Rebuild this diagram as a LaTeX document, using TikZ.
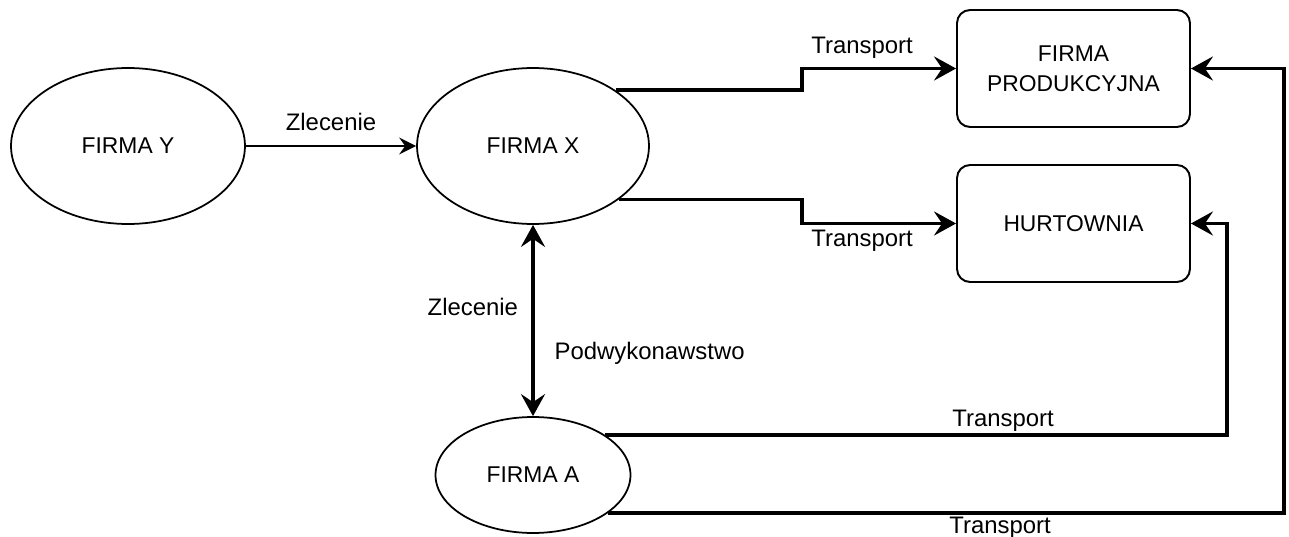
\documentclass[tikz,border=0pt]{standalone}
\usepackage{fontspec}
\setmainfont{Liberation Sans}
\usetikzlibrary{arrows.meta,shapes,positioning,calc}

\begin{document}
\begin{tikzpicture}[x=0.02cm, y=-0.02cm, font=\fontsize{13}{17}\selectfont,
		firm/.style={ellipse, draw, line width=1pt, inner sep=0pt},
		place/.style={rectangle, rounded corners=0.26cm, draw, line width=1.1pt, minimum width=4.66cm, minimum height=2.34cm, align=center},
		tip/.style={Stealth[length=4.4mm, width=4.8mm, inset=1.6mm]},
		flow/.style={line width=2pt, -{Stealth[length=4.4mm, width=4.8mm, inset=1.6mm]}},
		both/.style={line width=2pt, {Stealth[length=4.4mm, width=4.8mm, inset=1.6mm]}-{Stealth[length=4.4mm, width=4.8mm, inset=1.6mm]}},
		order/.style={line width=1.1pt, -{Stealth[length=3.4mm, width=3.4mm, inset=1.2mm]}},
		lab/.style={font=\fontsize{13.6}{16}\selectfont}]
		\useasboundingbox (0,0) rectangle (1289,537);

		\node[firm, minimum width=4.68cm, minimum height=3.12cm] (Y) at (128,146) {FIRMA Y};
		\node[firm, minimum width=4.64cm, minimum height=3.12cm] (X) at (533,146) {FIRMA X};
		\node[firm, minimum width=3.9cm, minimum height=2.32cm] (A) at (533,475) {FIRMA A};
		\node[place] (P) at (1073.5,68.5) {FIRMA\\PRODUKCYJNA};
		\node[place] (H) at (1073.5,223.5) {HURTOWNIA};

		\coordinate (b1) at (802,68.5);
		\coordinate (b2) at (802,223.5);
		\coordinate (b3) at (1227,223.5);
		\coordinate (b4) at (1284,68.5);

		\draw[order] (Y) -- (X) node[lab, midway, yshift=13.7pt] (l1) {Zlecenie};
		\draw[flow] (X.34) -| (b1) -- (P.west) node[lab, pos=0.39, yshift=12pt] (l2) {Transport};
		\draw[flow] (X.-32.4) -| (b2) -- (H.west) node[lab, pos=0.39, yshift=-10pt] (l3) {Transport};
		\draw[both] (X) -- (A)
			node[lab, pos=0.43, left=4.2pt] (l4) {Zlecenie}
			node[lab, pos=0.67, right=8pt] (l5) {Podwykonawstwo};
		\draw[flow] (A.29.4) -- (A.29.4 -| b3) node[lab, pos=0.64, yshift=8pt] (l6) {Transport} -- (b3) -- (H.east);
		\draw[flow] (A.-27.2) -- (A.-27.2 -| b4) node[lab, pos=0.58, yshift=-8.5pt] (l7) {Transport} -- (b4) -- (P.east);
	\end{tikzpicture}
\end{document}
